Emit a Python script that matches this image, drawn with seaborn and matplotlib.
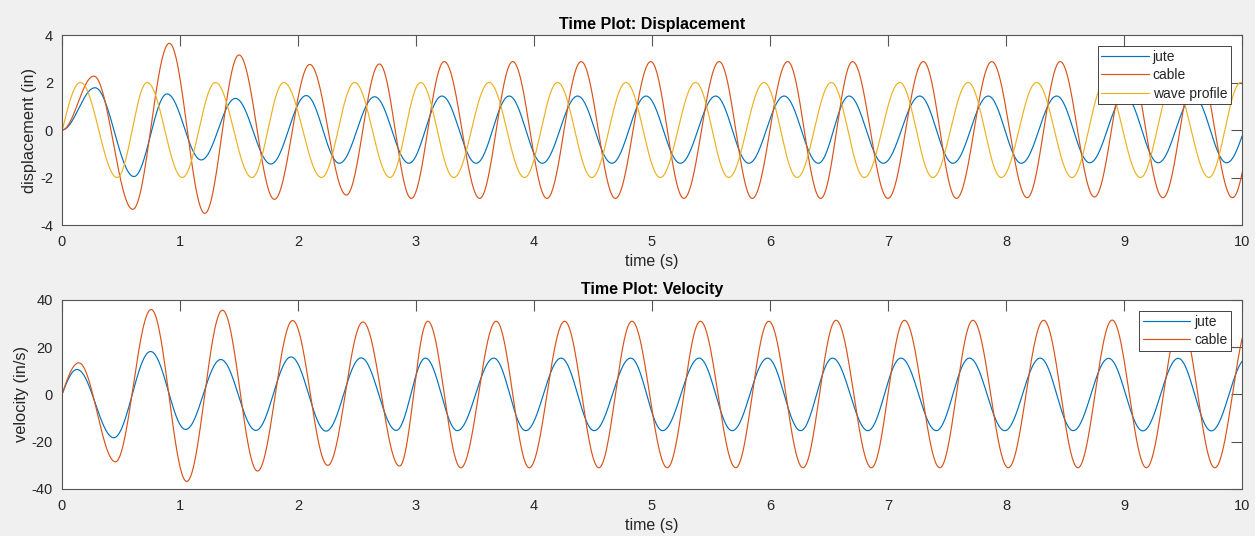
import matplotlib
matplotlib.use("Agg")
import matplotlib.pyplot as plt
import numpy as np
import pandas as pd
import seaborn as sns

sns.set_style("white")
plt.rcParams['font.family'] = ['Liberation Sans', 'DejaVu Sans']
plt.rcParams['axes.unicode_minus'] = False

# extrema (time s, value); first/last nodes may sit just outside 0..10
disp_jute_t = [0, 0.28, 0.61, 0.89, 1.18, 1.47, 1.77, 2.07, 2.35, 2.65, 2.94,
               3.22, 3.51, 3.79, 4.07, 4.37, 4.66, 4.95, 5.24, 5.54, 5.82, 6.12, 6.41,
               6.67, 6.96, 7.27, 7.55, 7.85, 8.13, 8.43, 8.71, 9.01, 9.29, 9.59, 9.87, 10.17]
disp_jute_y = [0, 1.78, -1.96, 1.52, -1.26, 1.33, -1.43, 1.45, -1.40, 1.40, -1.40,
               1.43, -1.40, 1.43, -1.40, 1.43, -1.40, 1.43, -1.40, 1.43, -1.40, 1.43, -1.40,
               1.43, -1.40, 1.43, -1.40, 1.43, -1.40, 1.43, -1.38, 1.43, -1.38, 1.43, -1.38, 1.43]

disp_cable_t = [0, 0.27, 0.60, 0.91, 1.21, 1.50, 1.80, 2.10, 2.41, 2.69, 2.96,
                3.24, 3.54, 3.82, 4.11, 4.40, 4.69, 4.99, 5.27, 5.57, 5.85, 6.15, 6.43,
                6.70, 7.00, 7.30, 7.58, 7.88, 8.18, 8.46, 8.75, 9.04, 9.33, 9.62, 9.92, 10.21]
disp_cable_y = [0, 2.27, -3.34, 3.65, -3.51, 3.16, -2.92, 2.76, -2.74, 2.78, -2.88,
                2.88, -2.88, 2.88, -2.88, 2.88, -2.88, 2.88, -2.88, 2.88, -2.88, 2.88, -2.88,
                2.88, -2.88, 2.88, -2.88, 2.88, -2.85, 2.88, -2.82, 2.88, -2.85, 2.88, -2.85, 2.88]

wave_t = [-0.15, 0.156, 0.467, 0.722, 1.02, 1.30, 1.61, 1.88, 2.20, 2.48, 2.78,
          3.04, 3.32, 3.62, 3.92, 4.20, 4.49, 4.78, 5.07, 5.37, 5.65, 5.95, 6.23,
          6.52, 6.80, 7.10, 7.38, 7.68, 7.96, 8.26, 8.56, 8.84, 9.14, 9.42, 9.72, 9.99, 10.28]
wave_y = [-2, 2, -2, 2, -2, 2, -2, 2, -2, 2, -2,
          2, -2, 2, -2, 2, -2, 2, -2, 2, -2, 2, -2,
          2, -2, 2, -2, 2, -2, 2, -2, 2, -2, 2, -2, 2, -2]

vel_jute_t = [-0.127, 0.127, 0.439, 0.751, 1.048, 1.346, 1.643, 1.941, 2.238, 2.535, 2.833,
              3.08, 3.35, 3.66, 3.93, 4.23, 4.51, 4.82, 5.09, 5.40, 5.68, 5.98, 6.26,
              6.53, 6.83, 7.11, 7.41, 7.69, 7.99, 8.29, 8.57, 8.87, 9.16, 9.46, 9.74, 10.04]
vel_jute_y = [-10.6, 10.6, -18.3, 18.2, -14.8, 14.8, -15.2, 15.9, -15.5, 15.5, -15.2,
              15.4, -15.3, 15.4, -15.3, 15.4, -15.3, 15.4, -15.3, 15.4, -15.3, 15.4, -15.3,
              15.4, -15.3, 15.4, -15.3, 15.4, -15.3, 15.4, -15.3, 15.3, -15.4, 15.3, -15.4, 15.3]

vel_cable_t = [-0.142, 0.142, 0.453, 0.756, 1.057, 1.36, 1.657, 1.955, 2.252, 2.55, 2.861,
               3.10, 3.38, 3.68, 3.96, 4.26, 4.55, 4.83, 5.13, 5.41, 5.71, 5.99, 6.28,
               6.56, 6.86, 7.14, 7.44, 7.72, 8.02, 8.32, 8.61, 8.90, 9.19, 9.48, 9.77, 10.07]
vel_cable_y = [-13.4, 13.4, -28.5, 36.0, -36.8, 35.7, -32.4, 31.3, -30.0, 30.7, -30.3,
               31.0, -31.0, 31.0, -31.0, 31.0, -31.0, 31.0, -31.0, 31.0, -31.0, 31.0, -31.0,
               31.4, -31.0, 31.4, -31.0, 31.4, -31.0, 31.4, -31.0, 31.5, -31.0, 31.4, -31.0, 31.4]

disp_names = ["jute", "cable", "wave profile"]
vel_names = ["jute", "cable"]
colors = ["#0072BD", "#D95319", "#EDB120"]


def smooth(ts, ys, n=80):
    # half-cosine between neighbouring extrema -> smooth wave through the read points
    xs, vs = [], []
    for t0, t1, y0, y1 in zip(ts[:-1], ts[1:], ys[:-1], ys[1:]):
        s = np.linspace(0, 1, n, endpoint=False)
        xs.append(t0 + s * (t1 - t0))
        vs.append(y0 + (y1 - y0) * (1 - np.cos(np.pi * s)) / 2)
    xs.append([ts[-1]]); vs.append([ys[-1]])
    return np.concatenate(xs), np.concatenate(vs)


def long_df(series):
    frames = []
    for name, (ts, ys) in series.items():
        x, y = smooth(ts, ys)
        frames.append(pd.DataFrame({"time": x, "value": y, "series": name}))
    return pd.concat(frames, ignore_index=True)


disp_df = long_df({"jute": (disp_jute_t, disp_jute_y),
                   "cable": (disp_cable_t, disp_cable_y),
                   "wave profile": (wave_t, wave_y)})
vel_df = long_df({"jute": (vel_jute_t, vel_jute_y),
                  "cable": (vel_cable_t, vel_cable_y)})

fig = plt.figure(figsize=(12.55, 5.36), dpi=100, facecolor="#f0f0f0")
ax1 = fig.add_axes([0.0494, 0.5802, 0.9402, 0.3545])
ax2 = fig.add_axes([0.0494, 0.0877, 0.9402, 0.3526])

panels = [(ax1, disp_df, disp_names, (-4, 4), [-4, -2, 0, 2, 4],
           "displacement (in)", "Time Plot: Displacement"),
          (ax2, vel_df, vel_names, (-40, 40), [-40, -20, 0, 20, 40],
           "velocity (in/s)", "Time Plot: Velocity")]

for ax, df, names, ylim, yticks, ylab, title in panels:
    sns.lineplot(data=df, x="time", y="value", hue="series", hue_order=names,
                 palette=colors[:len(names)], estimator=None, sort=False,
                 linewidth=0.85, legend=False, ax=ax)
    ax.set_facecolor("white")
    ax.set_xlim(0, 10)
    ax.set_ylim(*ylim)
    ax.set_xticks(range(0, 11))
    ax.set_yticks(yticks)
    ax.tick_params(direction="in", top=True, right=True, length=8, width=0.8,
                   color="#555555", labelcolor="#262626", labelsize=10.5, pad=7.5)
    ax.tick_params(axis="y", pad=6.5)
    for sp in ax.spines.values():
        sp.set_color("#555555")
        sp.set_linewidth(0.8)
    ax.set_xlabel("time (s)", fontsize=11.5, color="#262626", labelpad=3.5)
    ax.set_ylabel(ylab, fontsize=11.8, color="#262626", labelpad=2)
    ax.set_title(title, fontsize=11.5, fontweight="bold", color="#000000", pad=4.5)
    leg = ax.legend(ax.lines[:len(names)], names, loc="upper right", fontsize=10,
                    frameon=True, fancybox=False, framealpha=1, edgecolor="#262626",
                    handlelength=3.4, handletextpad=0.3, labelspacing=0.33,
                    borderpad=0.25, borderaxespad=0.8)
    leg.get_frame().set_linewidth(0.6)

fig.savefig("out.png", dpi=100, facecolor=fig.get_facecolor())
